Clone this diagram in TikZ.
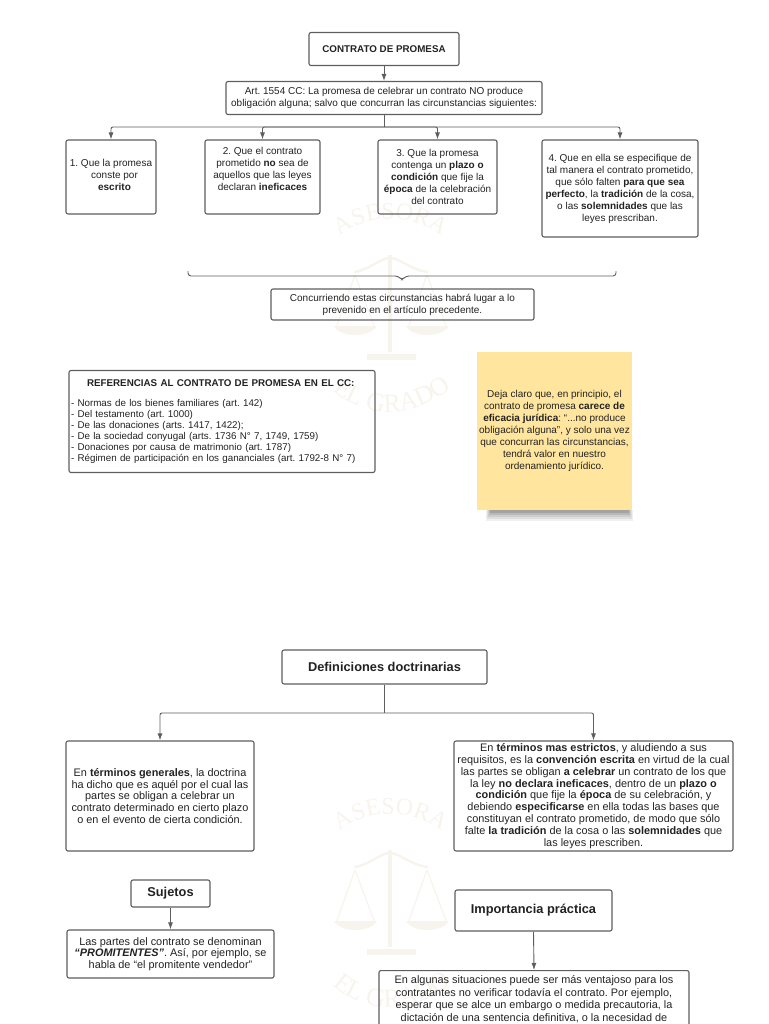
\documentclass[tikz,border=0pt]{standalone}
\usepackage{fontspec}
\setmainfont{Liberation Sans}
\newfontfamily\sealfont{Liberation Serif}
\usetikzlibrary{arrows.meta,decorations.text}
\definecolor{ink}{HTML}{222222}
\definecolor{edge}{HTML}{5E5E5E}
\definecolor{seal}{HTML}{F6F4EC}
\definecolor{sticky}{HTML}{FFE59E}
\newcommand{\txt}{\fontsize{10}{12}\selectfont}
\newcommand{\txtB}{\fontsize{10.9}{11.8}\selectfont}
\newcommand{\head}{\fontsize{12.8}{14}\selectfont\bfseries}
\frenchspacing
\begin{document}
\begin{tikzpicture}[x=1pt,y=-1pt]
\tikzstyle{every node}=[text=ink, inner sep=2pt, align=center]
\tikzstyle{box}=[draw=edge, line width=1.1pt, rounded corners=2pt, font=\txt]
\tikzstyle{boxB}=[box, font=\txtB]
\tikzstyle{link}=[draw=edge, line width=.9pt, rounded corners=2pt, -{Latex[length=7pt,width=5pt]}]
\tikzstyle{bar}=[draw=edge, line width=.9pt, rounded corners=2pt]
\useasboundingbox (0,0) rectangle (768,1024);
\clip (0,0) rectangle (768,1024);
% seal behind the boxes
\foreach \wy in {0,595} {
\begin{scope}[shift={(0,\wy)}]
\path[decorate, decoration={text along path, text align=center,
  text={|\color{seal}\fontsize{24}{24}\sealfont|ASESORA}}]
  (330,246) .. controls (360,210) and (420,210) .. (452,246);
\path[decorate, decoration={text along path, text align=center,
  text={|\color{seal}\fontsize{26}{26}\sealfont|EL GRADO}}]
  (318,372) .. controls (350,425) and (425,425) .. (468,372);
\draw[seal, line width=3.5pt] (390,255) -- (390,352);
\draw[seal, line width=6pt] (367,357) -- (416,357);
\draw[seal, line width=2.5pt] (354,272) .. controls (370,270) and (380,258) .. (390,258) .. controls (400,258) and (410,270) .. (428,272);
\draw[seal, line width=1.2pt] (355,275) -- (336,328);
\draw[seal, line width=1.2pt] (355,275) -- (375,328);
\draw[seal, line width=1.2pt] (427,275) -- (408,328);
\draw[seal, line width=1.2pt] (427,275) -- (447,328);
\fill[seal] (334,326) .. controls (340,338) and (370,338) .. (377,326) -- cycle;
\fill[seal] (406,326) .. controls (412,338) and (442,338) .. (449,326) -- cycle;
\end{scope}
}
% top part
\draw (384,49) node (title) [box, minimum width=150pt, minimum height=33pt, font=\fontsize{9.8}{12}\selectfont\bfseries] {CONTRATO DE PROMESA};
\draw (384,98) node (art) [box, minimum width=316pt, minimum height=33pt] {Art. 1554 CC: La promesa de celebrar un contrato NO produce\\obligación alguna; salvo que concurran las circunstancias siguientes:};
\draw (111,177) node (req1) [box, minimum width=90pt, minimum height=74pt] {1. Que la promesa\\\hspace*{7pt}conste por\\\hspace*{7pt}\textbf{escrito}\\[-8pt]\mbox{}};
\draw (262.5,177) node (req2) [box, minimum width=115pt, minimum height=74pt] {2. Que el contrato\\prometido \textbf{no} sea de\\aquellos que las leyes\\declaran \textbf{ineficaces}\\[4pt]\mbox{}};
\draw (437.5,177) node (req3) [box, minimum width=119pt, minimum height=74pt] {3. Que la promesa\\contenga un \textbf{plazo o}\\\textbf{condición} que fije la\\\textbf{época} de la celebración\\del contrato};
\draw (620,188.5) node (req4) [box, minimum width=156pt, minimum height=97pt] {4. Que en ella se especifique de\\tal manera el contrato prometido,\\que sólo falten \textbf{para que sea}\\\textbf{perfecto}, la \textbf{tradición} de la cosa,\\o las \textbf{solemnidades} que las\\leyes prescriban.};
\draw (402.5,304.5) node (conc) [box, minimum width=263pt, minimum height=31pt] {Concurriendo estas circunstancias habrá lugar a lo\\prevenido en el artículo precedente.};
\coordinate (split) at (384,127);
\coordinate (braceL) at (188,271);
\coordinate (braceR) at (616,271);
\draw[link] (title) -- (art);
\draw[bar] (art) -- (split);
\draw[link] (split) -| (req1);
\draw[link] (split) -| (req2);
\draw[link] (split) -| (req3);
\draw[link] (split) -| (req4);
\draw[edge, line width=.9pt, rounded corners=3pt] (braceL) -- (188,276) -- (398,276) -- (402,280) -- (406,276) -- (616,276) -- (braceR);
% references and note
\draw (222,421.5) node (refs) [box, minimum width=306pt, minimum height=102pt, text width=302pt, inner sep=2pt, align=left, font=\fontsize{9.8}{11}\selectfont] {\hspace*{16pt}\textbf{REFERENCIAS AL CONTRATO DE PROMESA EN EL CC:}\\[9pt]- Normas de los bienes familiares (art. 142)\\- Del testamento (art. 1000)\\- De las donaciones (arts. 1417, 1422);\\- De la sociedad conyugal (arts. 1736 N° 7, 1749, 1759)\\- Donaciones por causa de matrimonio (art. 1787)\\- Régimen de participación en los gananciales (art. 1792-8 N° 7)};
\foreach \s/\o in {0/.06,1/.07,2/.08,3/.1,4/.12} {
\fill[black, opacity=\o] (486+\s,510) rectangle (633-\s,521-\s*2);
}
\draw (554.5,431) node (note) [fill=sticky, minimum width=155pt, minimum height=158pt, font=\fontsize{10}{12}\selectfont] {Deja claro que, en principio, el\\contrato de promesa \textbf{carece de}\\\textbf{eficacia jurídica}: ``...no produce\\obligación alguna'', y solo una vez\\que concurran las circunstancias,\\tendrá valor en nuestro\\ordenamiento jurídico.};
% definitions
\draw (384.5,667) node (defs) [box, minimum width=205pt, minimum height=34pt, font=\head] {Definiciones doctrinarias};
\draw (160,796) node (defA) [boxB, minimum width=188pt, minimum height=110pt] {En \textbf{términos generales}, la doctrina\\ha dicho que es aquél por el cual las\\partes se obligan a celebrar un\\contrato determinado en cierto plazo\\o en el evento de cierta condición.};
\draw (593.5,796) node (defB) [boxB, minimum width=279pt, minimum height=110pt] {En \textbf{términos mas estrictos}, y aludiendo a sus\\requisitos, es la \textbf{convención escrita} en virtud de la cual\\las partes se obligan \textbf{a celebrar} un contrato de los que\\la ley \textbf{no declara ineficaces}, dentro de un \textbf{plazo o}\\\textbf{condición} que fije la \textbf{época} de su celebración, y\\debiendo \textbf{especificarse} en ella todas las bases que\\constituyan el contrato prometido, de modo que sólo\\falte \textbf{la tradición} de la cosa o las \textbf{solemnidades} que\\las leyes prescriben.};
\coordinate (fork) at (384.5,713);
\draw[bar] (defs) -- (fork);
\draw[link] (fork) -| (defA);
\draw[link] (fork) -| (defB);
% lower left and lower right
\draw (170.5,893.5) node (suj) [box, minimum width=79pt, minimum height=27pt, font=\head] {Sujetos};
\draw (170.5,954) node (sujT) [boxB, minimum width=207pt, minimum height=48pt] {Las partes del contrato se denominan\\\textbf{\textit{``PROMITENTES''}}. Así, por ejemplo, se\\habla de ``el promitente vendedor''};
\draw (533.5,910.5) node (imp) [box, minimum width=157pt, minimum height=41pt, font=\head] {Importancia práctica};
\draw (534,970) node (impT) [boxB, anchor=north, minimum width=310pt, minimum height=90pt, font=\fontsize{10.9}{12.4}\selectfont] {\mbox{}\\[-1pt]En algunas situaciones puede ser más ventajoso para los\\contratantes no verificar todavía el contrato. Por ejemplo,\\esperar que se alce un embargo o medida precautoria, la\\dictación de una sentencia definitiva, o la necesidad de\\[40pt]\mbox{}};
\draw[link] (suj) -- (sujT);
\draw[link] (imp.south) -- (impT.north);
\end{tikzpicture}
\end{document}
